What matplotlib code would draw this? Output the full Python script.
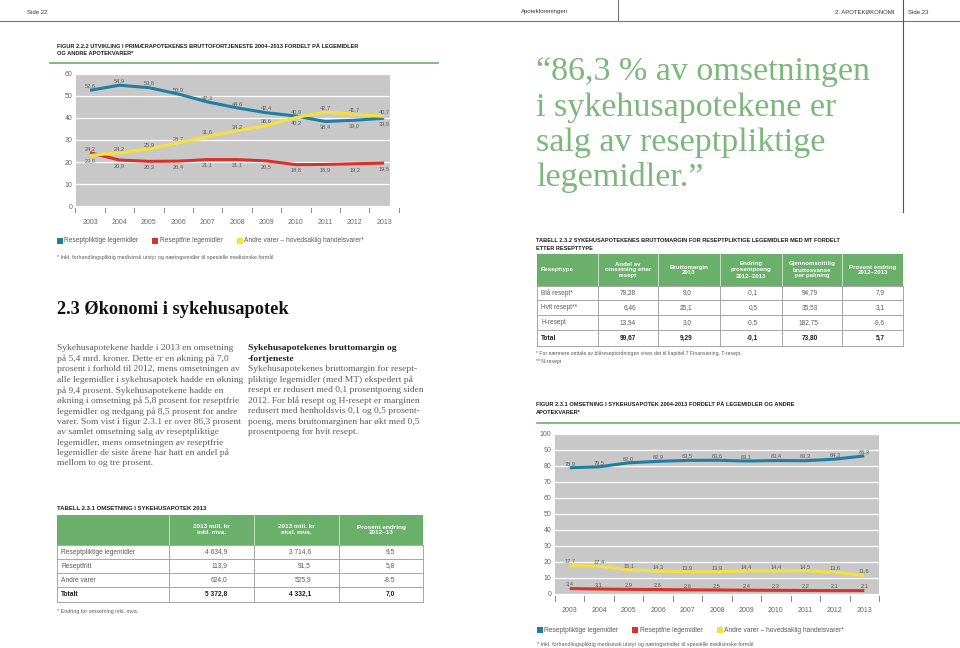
import numpy as np
import matplotlib
matplotlib.use('Agg')
from matplotlib import pyplot as plt
from matplotlib.patches import Rectangle
from matplotlib.transforms import blended_transform_factory

years = [str(y) for y in range(2003, 2014)]

# figur 2.2.2 - primærapotek, bruttofortjeneste (%)
pliktige_222 = [52.6, 54.9, 53.8, 50.9, 47.3, 44.6, 42.4, 40.9, 38.4, 39.0, 39.9]
frie_222 = [24.2, 20.9, 20.3, 20.4, 21.1, 21.1, 20.5, 18.8, 18.9, 19.2, 19.5]
andre_222 = [23.0, 24.2, 25.9, 28.7, 31.6, 34.2, 36.6, 40.2, 42.7, 41.7, 40.7]

# figur 2.3.1 - sykehusapotek, omsetning (%)
pliktige_231 = [78.9, 79.5, 82.0, 82.9, 83.5, 83.6, 83.1, 83.4, 83.3, 84.3, 86.3]
frie_231 = [3.4, 3.1, 2.9, 2.8, 2.6, 2.5, 2.4, 2.3, 2.2, 2.1, 2.1]
andre_231 = [17.7, 17.4, 15.1, 14.3, 13.9, 13.9, 14.4, 14.4, 14.5, 13.6, 11.6]

legend_names = ['Reseptpliktige legemidler', 'Reseptfrie legemidler',
                'Andre varer – hovedsaklig handelsvarer*']

# tabell 2.3.1
t1_head = ['', '2013 mill. kr\ninkl. mva.', '2013 mill. kr\neksl. mva.', 'Prosent endring\n2012–13']
t1_rows = ['Reseptpliktige legemidler', 'Reseptfritt', 'Andre varer', 'Totalt']
t1_inkl = [4634.9, 113.9, 624.0, 5372.8]
t1_ekskl = [3714.6, 91.5, 525.9, 4332.1]
t1_endr = [9.5, 5.8, -8.5, 7.0]

# tabell 2.3.2
t2_head = ['Resepttype', 'Andel av\nomsetning etter\nresept', 'Bruttomargin\n2013',
           'Endring\nprosentpoeng\n2012–2013', 'Gjennomsnittlig\nbruttoavanse\nper pakning',
           'Prosent endring\n2012–2013']
t2_rows = ['Blå resept*', 'Hvit resept**', 'H-resept', 'Total']
t2_andel = [79.28, 6.46, 13.94, 99.67]
t2_margin = [9.0, 25.1, 3.0, 9.29]
t2_endr_pp = [-0.1, 0.5, -0.5, -0.1]
t2_avanse = [94.79, 35.53, 182.75, 73.80]
t2_endr_pct = [7.9, 3.1, -9.6, 5.7]
t2_dec = [[2] * 4, [1, 1, 1, 2], [1] * 4, [2] * 4, [1] * 4]

BLUE = '#1f7ea1'
RED = '#d9322a'
YELLOW = '#f6e03a'
GREEN = '#6aaf6a'
QGREEN = '#7cb87c'
BG = '#c8c8c8'
TXT = '#5a5a5a'
DARK = '#1e1e1e'

SANS = 'Liberation Sans'
SERIF = 'Liberation Serif'


def no(v, d=1):
    s = f"{v:,.{d}f}"
    return s.replace(',', ' ').replace('.', ',')


fig = plt.figure(figsize=(9.6, 6.48), dpi=100)
pg = fig.add_axes([0, 0, 1, 1])
pg.set_xlim(0, 960)
pg.set_ylim(648, 0)
pg.axis('off')


def T(x, y, s, size=5, color=TXT, family=SANS, weight='normal', ha='left', va='center', **kw):
    pg.text(x, y, s, fontsize=size, color=color, family=family, weight=weight,
            ha=ha, va=va, **kw)


# page header
pg.plot([0, 960], [21, 21], color='#777777', lw=0.8)
pg.plot([903, 903], [0, 212], color='#555555', lw=0.8)
pg.plot([618, 618], [0, 21], color='#777777', lw=0.8)
T(27, 12, 'Side 22', size=4.3, color='#333333')
T(545, 12, 'Apotekforeningen', size=4.3, color='#333333', ha='center')
T(894, 12, '2. APOTEKØKONOMI', size=4.3, color='#333333', ha='right')
T(908, 12, 'Side 23', size=4.3, color='#333333')


def chart(box, xlim, ymax, series, colors, pos, tick_span):
    l, t, r, b = box
    ax = fig.add_axes([l / 960, 1 - b / 648, (r - l) / 960, (b - t) / 648])
    ax.set_facecolor(BG)
    x = np.arange(len(years))
    for vals, c, p in zip(series, colors, pos):
        ax.plot(x, vals, color=c, lw=2.2, solid_capstyle='butt', solid_joinstyle='round', zorder=3)
        for xi, v, pp in zip(x, vals, p):
            off = 3.2 if pp == 'a' else -4.0
            ax.annotate(no(v), (xi, v), xytext=(0, off), textcoords='offset points',
                        ha='center', va='center', fontsize=4.1, color=TXT, family=SANS, zorder=4)
    ax.set_xlim(*xlim)
    ax.set_ylim(0, ymax)
    ax.set_yticks(np.arange(0, ymax + 1, 10))
    ax.set_xticks(x)
    ax.set_xticklabels(years)
    ax.tick_params(axis='both', length=0, labelsize=5.0, labelcolor='#666666')
    ax.tick_params(axis='x', pad=9)
    ax.tick_params(axis='y', pad=2.5)
    for lab in ax.get_xticklabels() + ax.get_yticklabels():
        lab.set_family(SANS)
    ax.grid(axis='y', color='white', lw=0.9)
    ax.set_axisbelow(True)
    for s in ax.spines.values():
        s.set_visible(False)
    tr = blended_transform_factory(ax.transData, ax.transAxes)
    edges = np.arange(tick_span[0], tick_span[1] + 0.01, 1.0)
    for e in edges:
        ax.plot([e, e], [-0.015, -0.045], color='#888888', lw=0.7, transform=tr, clip_on=False)
    return ax


def legend(x_sq, x_tx, y, foot_y, x0):
    for xs, xt, c, name in zip(x_sq, x_tx, [BLUE, RED, YELLOW], legend_names):
        pg.add_patch(Rectangle((xs, y - 3), 5.5, 5.5, color=c, lw=0))
        T(xt, y, name, size=4.8)
    T(x0, foot_y, '* Inkl. forhandlingspliktig medisinsk utstyr og næringsmidler til spesielle medisinske formål',
      size=3.9)


# ---- figur 2.2.2
T(57, 46, 'FIGUR 2.2.2 UTVIKLING I PRIMÆRAPOTEKENES BRUTTOFORTJENESTE 2004–2013 FORDELT PÅ LEGEMIDLER',
  size=4.1, color=DARK, weight='bold')
T(57, 53.5, 'OG ANDRE APOTEKVARER*', size=4.1, color=DARK, weight='bold')
pg.plot([50, 438], [63, 63], color=GREEN, lw=1.2)
pos_blue = ['a'] * 8 + ['b'] * 3
pos_red = ['a'] + ['b'] * 10
pos_yel = ['b'] + ['a'] * 6 + ['b'] + ['a'] * 3
chart((76, 74, 390, 206), (-0.476, 10.2), 60, [pliktige_222, frie_222, andre_222],
      [BLUE, RED, YELLOW], [pos_blue, pos_red, pos_yel], (-0.5, 10.5))
legend([57, 152, 237], [64, 160, 244], 241, 257, 57)

# ---- quote
quote = ['“86,3 % av omsetningen', 'i sykehusapotekene er', 'salg av reseptpliktige', 'legemidler.”']
for i, line in enumerate(quote):
    T(536, 72 + i * 35.3, line, size=24.5, color=QGREEN, family=SERIF)

# ---- section text
T(57, 309, '2.3 Økonomi i sykehusapotek', size=13.2, color='#111111', family=SERIF, weight='bold')
left_col = [
    'Sykehusapotekene hadde i 2013 en omsetning',
    'på 5,4 mrd. kroner. Dette er en økning på 7,0',
    'prosent i forhold til 2012, mens omsetningen av',
    'alle legemidler i sykehusapotek hadde en økning',
    'på 9,4 prosent. Sykehusapotekene hadde en',
    'økning i omsetning på 5,8 prosent for reseptfrie',
    'legemidler og nedgang på 8,5 prosent for andre',
    'varer. Som vist i figur 2.3.1 er over 86,3 prosent',
    'av samlet omsetning salg av reseptpliktige',
    'legemidler, mens omsetningen av reseptfrie',
    'legemidler de siste årene har hatt en andel på',
    'mellom to og tre prosent.',
]
right_col = [
    ('Sykehusapotekenes bruttomargin og', 'bold'),
    ('-fortjeneste', 'bold'),
    ('Sykehusapotekenes bruttomargin for resept-', 'normal'),
    ('pliktige legemidler (med MT) ekspedert på', 'normal'),
    ('resept er redusert med 0,1 prosentpoeng siden', 'normal'),
    ('2012. For blå resept og H-resept er marginen', 'normal'),
    ('redusert med henholdsvis 0,1 og 0,5 prosent-', 'normal'),
    ('poeng, mens bruttomarginen har økt med 0,5', 'normal'),
    ('prosentpoeng for hvit resept.', 'normal'),
]
for i, line in enumerate(left_col):
    T(57, 348.5 + i * 10.45, line, size=6.8, family=SERIF, color='#5c5c5c')
for i, (line, w) in enumerate(right_col):
    T(248, 348.5 + i * 10.45, line, size=6.8, family=SERIF, weight=w,
      color='#222222' if w == 'bold' else '#5c5c5c')


def table(xe, ye, head, rows, cols, decs, pads, fs, hfs):
    top, hbot = ye[0], ye[1]
    pg.add_patch(Rectangle((xe[0], top), xe[-1] - xe[0], hbot - top, color=GREEN, lw=0))
    for xv in xe[1:-1]:
        pg.plot([xv, xv], [top, hbot], color='#d8ead8', lw=0.6)
    for j, h in enumerate(head):
        if j == 0:
            T(xe[0] + 4, (top + hbot) / 2, h, size=hfs, color='white', weight='bold')
        else:
            T((xe[j] + xe[j + 1]) / 2, (top + hbot) / 2, h, size=hfs, color='white', weight='bold',
              ha='center', linespacing=1.25)
    for yv in ye[1:]:
        pg.plot([xe[0], xe[-1]], [yv, yv], color='#9a9a9a', lw=0.6)
    for xv in xe:
        pg.plot([xv, xv], [hbot, ye[-1]], color='#9a9a9a', lw=0.6)
    n = len(rows)
    for i, name in enumerate(rows):
        yc = (ye[i + 1] + ye[i + 2]) / 2
        last = i == n - 1
        w = 'bold' if last else 'normal'
        c = DARK if last else TXT
        T(xe[0] + 4, yc, name, size=fs, weight=w, color=c)
        for j, (col, d, p) in enumerate(zip(cols, decs, pads)):
            T(xe[j + 2] - p, yc, no(col[i], d[i]), size=fs, weight=w, color=c, ha='right')


# ---- tabell 2.3.1
T(57, 509, 'TABELL 2.3.1 OMSETNING I SYKEHUSAPOTEK 2013', size=4.3, color=DARK, weight='bold')
table([57, 169, 254, 339, 423], [515, 545, 559, 573, 587, 602], t1_head, t1_rows,
      [t1_inkl, t1_ekskl, t1_endr], [[1] * 4] * 3, [27, 28, 28], 4.8, 4.6)
T(57, 611, '* Endring for omsetning inkl. mva.', size=3.9)

# ---- tabell 2.3.2
T(536, 240, 'TABELL 2.3.2 SYKEHUSAPOTEKENES BRUTTOMARGIN FOR RESEPTPLIKTIGE LEGEMIDLER MED MT FORDELT',
  size=4.1, color=DARK, weight='bold')
T(536, 248, 'ETTER RESEPTTYPE', size=4.1, color=DARK, weight='bold')
table([537, 598, 658, 720, 782, 842, 903], [254, 286, 300, 315, 330, 346], t2_head, t2_rows,
      [t2_andel, t2_margin, t2_endr_pp, t2_avanse, t2_endr_pct], t2_dec, [22, 28, 24, 24, 18], 4.7, 4.4)
T(536, 353, '* For nærmere omtale av blåreseptordningen vises det til kapittel 7 Finansiering. T-resept',
  size=3.7)
T(536, 361, '** N-resept', size=3.7)

# ---- figur 2.3.1
T(536, 405, 'FIGUR 2.3.1 OMSETNING I SYKEHUSAPOTEK 2004-2013 FORDELT PÅ LEGEMIDLER OG ANDRE',
  size=4.1, color=DARK, weight='bold')
T(536, 413, 'APOTEKVARER*', size=4.1, color=DARK, weight='bold')
pg.plot([537, 960], [423, 423], color=GREEN, lw=1.2)
chart((555, 434, 879, 594), (-0.5, 10.5), 100, [pliktige_231, frie_231, andre_231],
      [BLUE, RED, YELLOW], [['a'] * 11, ['a'] * 11, ['a'] * 11], (-0.5, 10.5))
legend([537, 632, 717], [544, 640, 724], 630, 644, 537)

fig.savefig('out.png', dpi=100)
